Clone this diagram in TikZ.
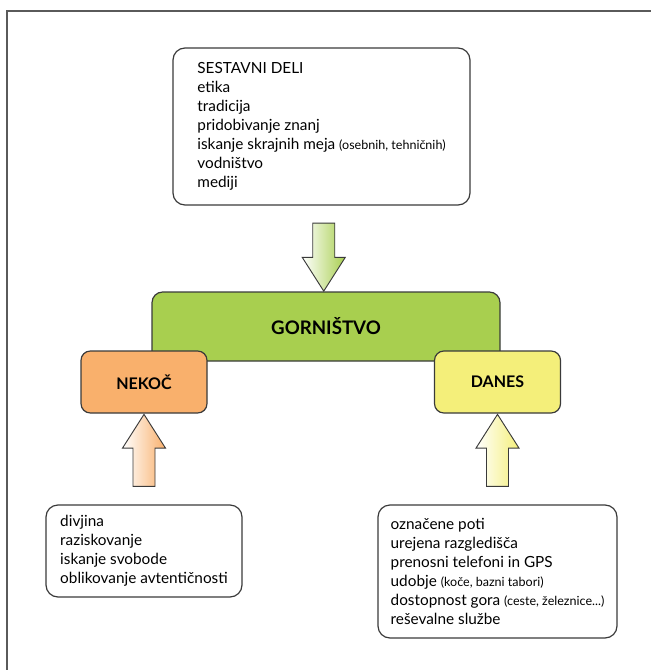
\documentclass[tikz,border=0pt]{standalone}
\usepackage{fontspec}
\setmainfont{Lato}
\usetikzlibrary{calc,positioning,shapes.arrows}

\definecolor{gorngreen}{HTML}{A8CF4F}
\definecolor{nekocorange}{HTML}{F9B06C}
\definecolor{danesyellow}{HTML}{F4EF7A}
\definecolor{linegray}{HTML}{3A3A3A}
\definecolor{framegray}{HTML}{5A5A5A}

\newcommand{\pojasnilo}[1]{{\fontsize{9.4}{14}\selectfont #1}}

\begin{document}
\begin{tikzpicture}[
                x=0.75pt, y=-0.75pt,
                box/.style={draw=linegray, line width=0.9pt, rounded corners=9pt},
                listbox/.style={box, align=left, inner sep=0pt,
                    font=\fontsize{11.5}{14.25}\selectfont},
                labelbox/.style={box, rounded corners=7pt, minimum width=94.5pt,
                    minimum height=46.5pt, font=\bfseries\fontsize{12}{14}\selectfont},
                blockarrow/.style={single arrow, draw=linegray, line width=0.7pt,
                    inner xsep=0pt, inner ysep=7.9pt, single arrow head extend=7.9pt,
                    single arrow tip angle=65}
            ]
                \useasboundingbox (0,0) rectangle (651,670);
                % okvir
                \draw[framegray, line width=1.5pt] (7,670) -- (7,11) -- (651,11);

                \node[listbox, minimum width=222.75pt, minimum height=117.75pt]
                    (sestavni) at (321.5,126.5)
                    {SESTAVNI DELI\\ etika\\ tradicija\\ pridobivanje znanj\\
                     iskanje skrajnih meja \pojasnilo{(osebnih, tehničnih)}\\ vodništvo\\ mediji};

                \node[box, fill=gorngreen, rounded corners=8pt, minimum width=261pt,
                    minimum height=51.75pt, font=\bfseries\fontsize{14}{16}\selectfont]
                    (gornistvo) at (326,326.5) {GORNIŠTVO};
                \node[labelbox, fill=nekocorange] (nekoc) at (144,382) {NEKOČ};
                \node[labelbox, fill=danesyellow] (danes) at (497.5,382) {DANES};

                \node[listbox, minimum width=147pt, minimum height=69pt]
                    (nekdaj) at (144,551)
                    {divjina\\ raziskovanje\\ iskanje svobode\\ oblikovanje avtentičnosti};
                \node[listbox, minimum width=179.25pt, minimum height=99.75pt]
                    (sedaj) at (497.5,571.5)
                    {označene poti\\ urejena razgledišča\\ prenosni telefoni in GPS\\
                     udobje \pojasnilo{(koče, bazni tabori)}\\
                     dostopnost gora \pojasnilo{(ceste, železnice...)}\\ reševalne službe};

                % puscice
                \node[blockarrow, minimum height=51pt, rotate=-90,
                    left color=white, right color=gorngreen]
                    (vgor) at ($(sestavni.south)!0.5!(gornistvo.north)$) {};
                \node[blockarrow, minimum height=54pt, rotate=90,
                    left color=white, right color=nekocorange]
                    (vnekoc) at ($(nekdaj.north)!0.5!(nekoc.south)$) {};
                \node[blockarrow, minimum height=54pt, rotate=90,
                    left color=white, right color=danesyellow]
                    (vdanes) at ($(sedaj.north)!0.5!(danes.south)$) {};
            \end{tikzpicture}
\end{document}
